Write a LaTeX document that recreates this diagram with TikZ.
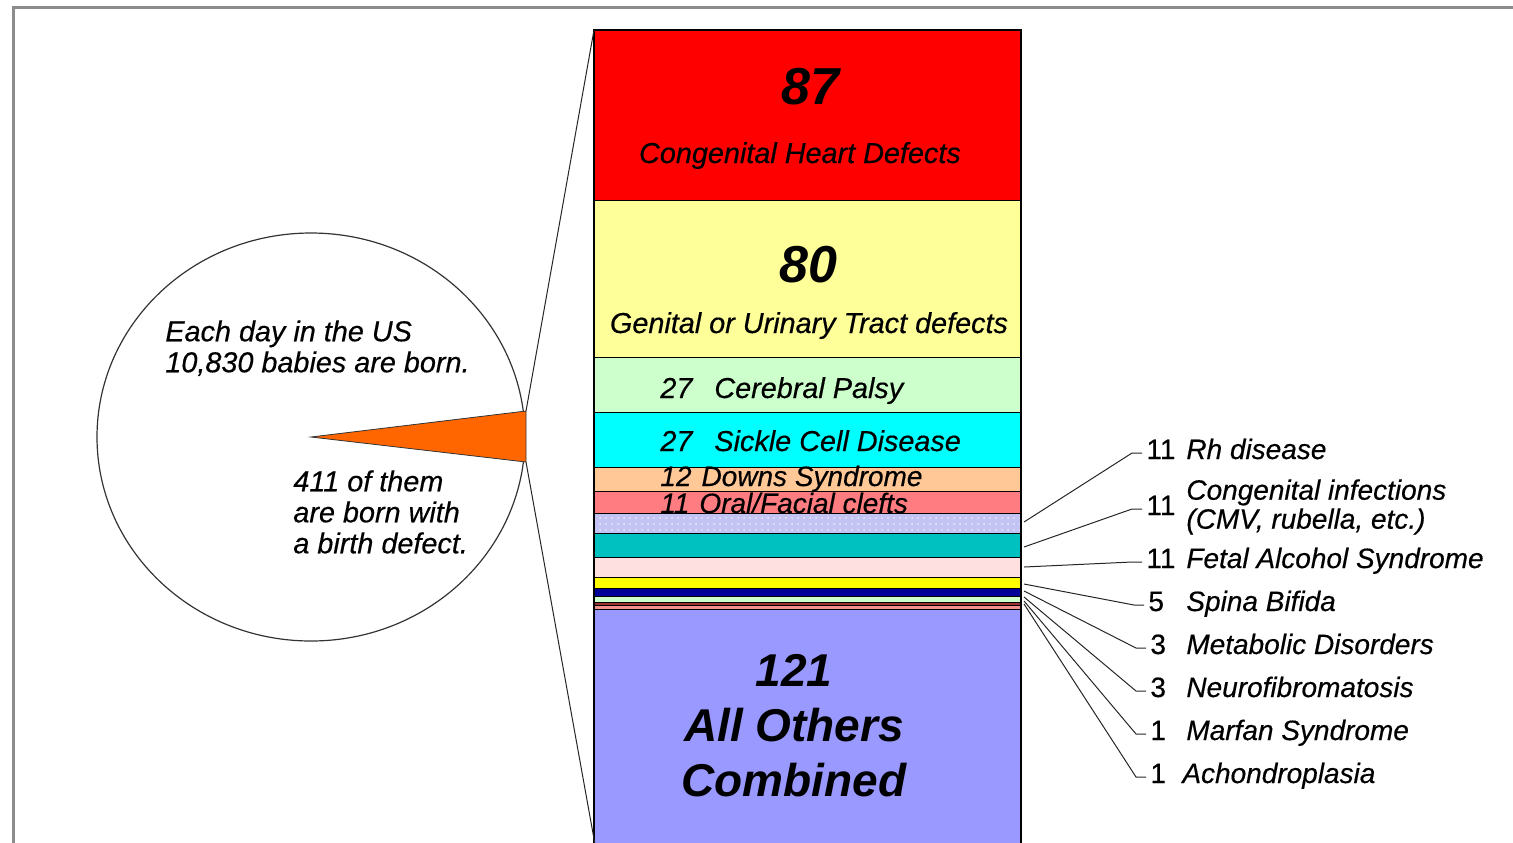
\documentclass[tikz,border=0pt]{standalone}
\usepackage{fontspec}
\setmainfont{Liberation Sans}
\newfontfamily\heavysans{Liberation Sans}[FakeBold=0.4]
\usepackage{tikz}
\usetikzlibrary{positioning}
\usetikzlibrary{patterns}

\definecolor{heartred}{HTML}{FF0000}
\definecolor{urinaryyellow}{HTML}{FFFF99}
\definecolor{palsygreen}{HTML}{CCFFCC}
\definecolor{sicklecyan}{HTML}{00FFFF}
\definecolor{downspeach}{HTML}{FFC896}
\definecolor{cleftsalmon}{HTML}{FF7C80}
\definecolor{rhlavender}{HTML}{C4C4F4}
\definecolor{infectteal}{HTML}{00C0C0}
\definecolor{fetalpink}{HTML}{FFE0E0}
\definecolor{spinayellow}{HTML}{FFFF00}
\definecolor{metabnavy}{HTML}{000099}
\definecolor{neurogreen}{HTML}{CCFFCC}
\definecolor{marfanred}{HTML}{993333}
\definecolor{achonpink}{HTML}{F09090}
\definecolor{otherspurple}{HTML}{9999FF}
\definecolor{wedgeorange}{HTML}{FF6600}
\definecolor{framegrey}{HTML}{8C8C8C}
\newcommand{\tikzStripe}[3]{\filldraw[fill=#3, draw=black, line width=0.5pt] (594,#1) rectangle (1021,#2)}

\begin{document}
\begin{tikzpicture}[x=0.5pt, y=-0.5pt,
    lbl/.style={font=\heavysans\fontsize{14.4}{15.5}\selectfont\itshape, inner sep=0pt},
    sidelbl/.style={font=\heavysans\fontsize{14}{14.5}\selectfont\itshape, inner sep=0pt},
    sidenum/.style={font=\heavysans\fontsize{14}{14.5}\selectfont, inner sep=0pt, inner xsep=2pt},
    bignum/.style={font=\fontsize{26}{30}\selectfont\bfseries\itshape, inner sep=0pt},
    bigtxt/.style={font=\fontsize{23}{27.5}\selectfont\bfseries\itshape, inner sep=0pt},
    leader/.style={draw=black!85, line width=0.5pt}]
                \useasboundingbox (0,0) rectangle (1513,842);
                \clip (0,0) rectangle (1513,842);
                \draw [framegrey, line width=1.5pt] (13,900) -- (13,7) -- (1600,7);
                % one day of births, with the defect slice
                \draw [black!80, line width=0.6pt] (311,437) ellipse [x radius=214, y radius=204];
                \coordinate (wedgeTip) at (311,437);
                \coordinate (wedgeTop) at (526,411);
                \coordinate (wedgeBot) at (526,462);
                \filldraw [fill=wedgeorange, draw=black!80, line width=0.4pt] (wedgeTip) -- (wedgeTop) -- (wedgeBot) -- cycle;
                \node [lbl, align=left, anchor=north west] (tBorn) at (165,320) {Each day in the US\\10,830 babies are born.};
                \node [lbl, align=left, anchor=north west] (tDefect) at (293,470) {411 of them\\are born with\\a birth defect.};
                % the 411 split by defect
                \tikzStripe{30}{200}{heartred};
                \tikzStripe{200}{357}{urinaryyellow};
                \tikzStripe{357}{412}{palsygreen};
                \tikzStripe{412}{467}{sicklecyan};
                \tikzStripe{467}{491}{downspeach};
                \tikzStripe{491}{513}{cleftsalmon};
                \tikzStripe{513}{533}{rhlavender};
                \fill [pattern=dots, pattern color=white!60!rhlavender] (595,514) rectangle (1020,532);
                \tikzStripe{533}{557}{infectteal};
                \tikzStripe{557}{577}{fetalpink};
                \tikzStripe{577}{588}{spinayellow};
                \tikzStripe{588}{596}{metabnavy};
                \tikzStripe{596}{602}{neurogreen};
                \tikzStripe{602}{605}{marfanred};
                \tikzStripe{605}{609}{achonpink};
                \tikzStripe{609}{880}{otherspurple};
                \draw [line width=0.6pt] (594,30) rectangle (1021,880);
                \coordinate (barTop) at (594,30);
                \coordinate (barBot) at (596,850);
                \draw [black!85, line width=0.5pt] (barTop) -- (wedgeTop);
                \draw [black!85, line width=0.5pt] (wedgeBot) -- (barBot);
                \node [bignum, anchor=base] (n87) at (810,104) {87};
                \node [lbl, anchor=base] (tHeart) at (800,163) {Congenital Heart Defects};
                \node [bignum, anchor=base] (n80) at (808,282) {80};
                \node [lbl, anchor=base] (tUrinary) at (809,333) {Genital or Urinary Tract defects};
                \node [lbl, anchor=base west] (tPalsy) at (660,398) {27\hspace{11pt}Cerebral Palsy};
                \node [lbl, anchor=base west] (tSickle) at (660,451) {27\hspace{11pt}Sickle Cell Disease};
                \node [sidelbl, anchor=base west] (tDowns) at (660,486) {12\hspace{5pt}Downs Syndrome};
                \node [sidelbl, anchor=base west] (tClefts) at (660,513) {11\hspace{5pt}Oral/Facial clefts};
                \node [bigtxt, align=center, anchor=north] (tOthers) at (794,654) {121\\All Others\\Combined};
                % small counts, labelled off to the right
                \coordinate (sRh) at (1024,522);
                \coordinate (sInfect) at (1024,547);
                \coordinate (sFetal) at (1024,567);
                \coordinate (sSpina) at (1024,584);
                \coordinate (sMetab) at (1024,591);
                \coordinate (sNeuro) at (1024,597);
                \coordinate (sMarfan) at (1024,601);
                \coordinate (sAchon) at (1024,604);
                \node [sidenum, anchor=base west] (nRh) at (1142,459) {11};
                \node [sidelbl, anchor=base west] (tRh) at (1186,459) {Rh disease};
                \node [sidenum, anchor=base west] (nInfect) at (1142,515) {11};
                \node [sidelbl, align=left, anchor=north west] (tInfect) at (1186,479) {Congenital infections\\(CMV, rubella, etc.)};
                \node [sidenum, anchor=base west] (nFetal) at (1142,568) {11};
                \node [sidelbl, anchor=base west] (tFetal) at (1186,568) {Fetal Alcohol Syndrome};
                \node [sidenum, anchor=base west] (nSpina) at (1144,611) {5};
                \node [sidelbl, anchor=base west] (tSpina) at (1186,611) {Spina Bifida};
                \node [sidenum, anchor=base west] (nMetab) at (1146,654) {3};
                \node [sidelbl, anchor=base west] (tMetab) at (1186,654) {Metabolic Disorders};
                \node [sidenum, anchor=base west] (nNeuro) at (1146,697) {3};
                \node [sidelbl, anchor=base west] (tNeuro) at (1186,697) {Neurofibromatosis};
                \node [sidenum, anchor=base west] (nMarfan) at (1146,740) {1};
                \node [sidelbl, anchor=base west] (tMarfan) at (1186,740) {Marfan Syndrome};
                \node [sidenum, anchor=base west] (nAchon) at (1146,783) {1};
                \node [sidelbl, anchor=base west] (tAchon) at (1182,783) {Achondroplasia};
                \draw [leader] (sRh) -- ([xshift=-5pt,yshift=3pt]nRh.base west) -- ([yshift=3pt]nRh.base west);
                \draw [leader] (sInfect) -- ([xshift=-5pt,yshift=3pt]nInfect.base west) -- ([yshift=3pt]nInfect.base west);
                \draw [leader] (sFetal) -- ([xshift=-5pt,yshift=3pt]nFetal.base west) -- ([yshift=3pt]nFetal.base west);
                \draw [leader] (sSpina) -- ([xshift=-5pt,yshift=3pt]nSpina.base west) -- ([yshift=3pt]nSpina.base west);
                \draw [leader] (sMetab) -- ([xshift=-5pt,yshift=3pt]nMetab.base west) -- ([yshift=3pt]nMetab.base west);
                \draw [leader] (sNeuro) -- ([xshift=-5pt,yshift=3pt]nNeuro.base west) -- ([yshift=3pt]nNeuro.base west);
                \draw [leader] (sMarfan) -- ([xshift=-5pt,yshift=3pt]nMarfan.base west) -- ([yshift=3pt]nMarfan.base west);
                \draw [leader] (sAchon) -- ([xshift=-5pt,yshift=3pt]nAchon.base west) -- ([yshift=3pt]nAchon.base west);
              \end{tikzpicture}
\end{document}
